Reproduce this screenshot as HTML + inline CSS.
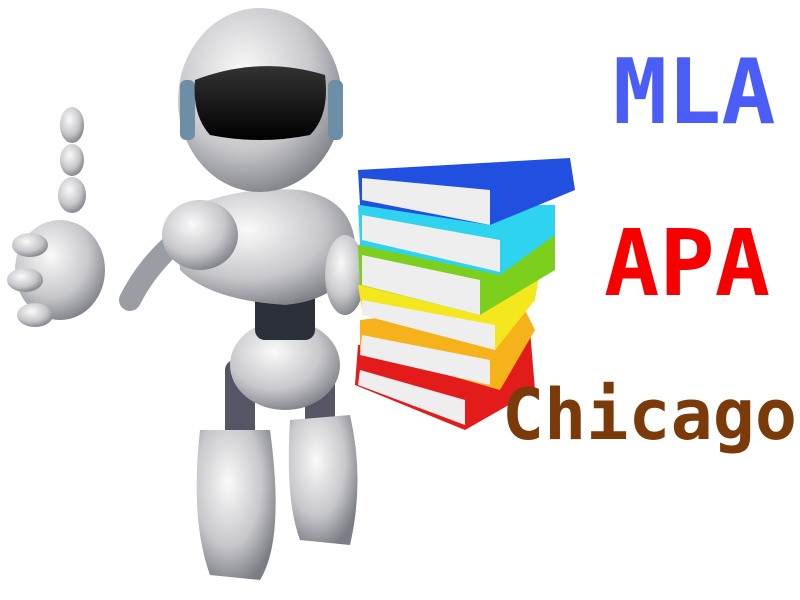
<!DOCTYPE html>
<html><head><style>
html,body{margin:0;padding:0;background:#fff;width:800px;height:600px;overflow:hidden}
.t{position:absolute;font-family:"DejaVu Sans Mono","Liberation Mono",monospace;font-weight:bold;line-height:1;white-space:nowrap}
</style></head><body>
<svg width="800" height="600" style="position:absolute;left:0;top:0">
<defs>
<radialGradient id="g" cx="40%" cy="35%" r="70%"><stop offset="0" stop-color="#fafafa"/><stop offset="0.6" stop-color="#c8c8cc"/><stop offset="1" stop-color="#7a7d84"/></radialGradient>
<linearGradient id="v" x1="0" y1="0" x2="0" y2="1"><stop offset="0" stop-color="#333"/><stop offset="1" stop-color="#000"/></linearGradient>
</defs>
<!-- legs -->
<rect x="225" y="360" width="30" height="80" fill="#556" rx="10"/>
<rect x="305" y="360" width="30" height="70" fill="#556" rx="10"/>
<path d="M200 430 Q190 520 210 575 L260 580 Q285 540 270 430 Z" fill="url(#g)"/>
<path d="M290 420 Q285 500 300 540 L350 545 Q365 480 350 415 Z" fill="url(#g)"/>
<!-- pelvis -->
<ellipse cx="285" cy="365" rx="55" ry="45" fill="url(#g)"/>
<!-- torso -->
<rect x="255" y="280" width="60" height="60" fill="#2c3038" rx="10"/>
<path d="M175 215 Q230 185 300 190 Q360 200 355 260 Q340 300 285 305 Q210 300 180 270 Z" fill="url(#g)"/>
<!-- left arm -->
<path d="M190 230 Q150 260 130 300" stroke="#9a9da4" stroke-width="22" fill="none" stroke-linecap="round"/>
<ellipse cx="200" cy="235" rx="38" ry="35" fill="url(#g)"/>
<!-- hand -->
<ellipse cx="60" cy="270" rx="45" ry="50" fill="url(#g)"/>
<ellipse cx="72" cy="125" rx="12" ry="18" fill="url(#g)"/>
<ellipse cx="72" cy="160" rx="12" ry="16" fill="url(#g)"/>
<ellipse cx="72" cy="195" rx="14" ry="18" fill="url(#g)"/>
<ellipse cx="30" cy="245" rx="18" ry="12" fill="url(#g)"/>
<ellipse cx="25" cy="280" rx="18" ry="12" fill="url(#g)"/>
<ellipse cx="35" cy="315" rx="18" ry="12" fill="url(#g)"/>
<!-- right arm -->
<ellipse cx="345" cy="275" rx="20" ry="40" fill="url(#g)"/>
<!-- head -->
<ellipse cx="260" cy="100" rx="82" ry="92" fill="url(#g)"/>
<rect x="180" y="80" width="15" height="60" rx="6" fill="#6d8fa5"/>
<rect x="328" y="80" width="15" height="60" rx="6" fill="#6d8fa5"/>
<path d="M195 80 Q260 55 325 75 Q330 115 310 135 Q260 145 210 135 Q192 115 195 80 Z" fill="url(#v)"/>
<!-- books -->
<polygon points="358,345 530,330 535,390 465,430 355,385" fill="#e31b1b"/>
<polygon points="360,370 465,400 465,425 358,385" fill="#eee"/>
<polygon points="360,320 520,300 535,330 500,390 360,350" fill="#f6b21a"/>
<polygon points="362,335 490,360 490,385 360,355" fill="#eee"/>
<polygon points="358,285 540,270 535,300 495,350 362,310" fill="#f5e71e"/>
<polygon points="362,300 495,325 495,350 362,315" fill="#eee"/>
<polygon points="358,245 555,235 555,270 480,315 360,285" fill="#7ccf1c"/>
<polygon points="362,255 480,280 480,315 362,285" fill="#eee"/>
<polygon points="358,205 555,205 555,235 500,275 360,245" fill="#2ed3f0"/>
<polygon points="362,215 500,240 500,272 362,240" fill="#eee"/>
<polygon points="358,170 570,158 575,190 490,225 360,205" fill="#2150e0"/>
<polygon points="362,178 490,190 490,225 362,200" fill="#eee"/>
</svg>
<div class="t" style="left:613px;top:48px;font-size:90px;color:#4a5ef7">MLA</div>
<div class="t" style="left:604px;top:218px;font-size:92px;color:#f70000">APA</div>
<div class="t" style="left:502px;top:380px;font-size:70px;color:#7a3a0a">Chicago</div>
</body></html>
